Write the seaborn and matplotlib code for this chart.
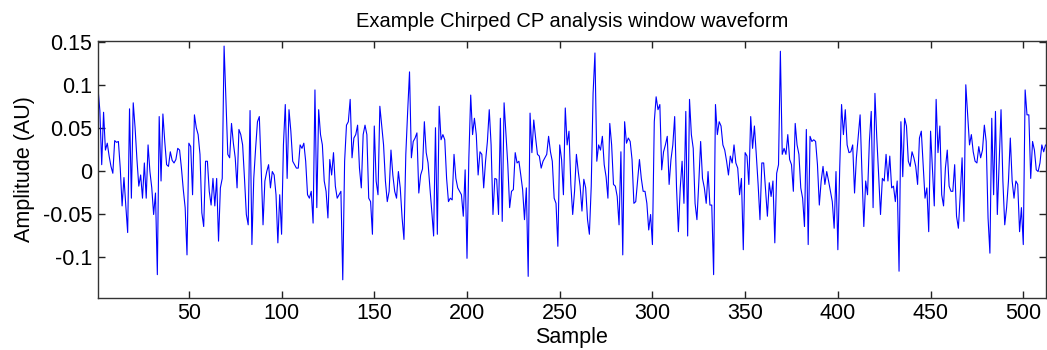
import numpy as np
import pandas as pd
import matplotlib
matplotlib.use("Agg")
import matplotlib.pyplot as plt
import seaborn as sns

# amplitude values (x 0.001), samples 1..512
seg1 = [96, 70, 7, 68, 24, 32, 17, 5, -3, 35,
        33, 34, 3, -41, -8, -41, -72, 72, -32, 79,
        50, 13, -18, -5, -32, 9, -32, 30, -1, -20,
        -51, -26, -121, 63, -12, 66, 34, 7, 5, 22,
        12, 9, 13]
seg2 = [26, 24, 3, -22, -43, -98, 32, 28, -28, 65,
        50, 42, 19, -49, -65, 11, 11, -24, -40, -9,
        -41, -9, -82, -20, -9, 145, 83, 19, 15, 55,
        32, 15, -20, 48, 42, 30, -9, -51, -63, 70,
        -86, -9, 26]
seg3 = [57, 63, 3, -63, -12, -1, 7, -20, -1, -5,
        -28, -84, -28, -74, 30, 77, -9, 71, 46, 11,
        7, 3, 3, 30, 26, 32, 11, -28, -32, -24,
        -61, 94, -43, 71, 42, 30, -12, -24, -55, 13,
        -5, 21, -18]
seg4 = [-32, -28, -24, -127, 11, 53, 57, 83, 15, 38,
        42, 53, 3, -20, 42, 53, 42, -32, -36, -74,
        52, -12, -28, 75, 53, 30, -12, -36, -24, 24,
        -5, -24, -32, -1, -20, -55, -80, 19, 69, 115,
        15, 34, 38]
seg5 = [44, -26, -5, 2, 57, 21, 9, -20, -47, -76,
        50, -74, 75, 36, 42, 36, -9, -36, -32, -34,
        19, -9, -20, -24, -28, -53, 1, -102, 15, 88,
        42, 61, 42, -5, 22, 19, -20, 11, 34, 71,
        30, -51, -9]
seg6 = [-10, -51, 61, -59, 79, 42, 7, -43, -24, -22,
        21, 9, 11, -5, -22, -57, -20, -123, 67, 21,
        59, 38, 19, 17, 3, 11, 15, 19, 40, 22,
        11, -32, -38, -88, 30, 13, -28, 73, 30, 46,
        -16, -51, -24]
seg7 = [19, -1, -18, -47, -10, -20, -57, -74, -18, 90,
        137, 11, 30, 24, 40, 7, -7, -32, 55, 30,
        -16, -18, -30, -63, 22, -98, 57, 32, 38, 34,
        13, -38, -36, -12, 13, -9, -24, -24, -38, -69,
        -51, -86, 57]
seg8 = [86, 71, 77, 1, 22, 30, 40, -16, 13, 30,
        63, -20, -71, -20, 11, -38, 69, -76, 83, 42,
        26, -38, -57, -14, 34, -9, -20, -38, -1, -40,
        -40, -121, 77, 42, 57, 52, 30, 24, 11, -5,
        17, 9, 30, 9]
seg9 = [3, -28, -9, -92, 21, 17, -16, 63, 26, 52,
        19, -16, -57, 9, 9, -22, -53, -14, -30, -12,
        -84, -3, 7, 139, 19, 26, 19, 42, 13, 7,
        -24, 55, 30, 19, -20, -32, -65, 48, -86, 40,
        34, 36, 34]
seg10 = [7, -40, -12, 5, -16, -1, -12, -24, -36, -67,
         -1, -92, 3, 77, 42, 71, 30, 21, 22, 30,
         -26, 15, 40, 65, -3, -65, -12, -28, 34, 69,
         -43, 90, 38, -5, -51, -9, -12, 19, -12, 17,
         -20, -18, -36]
seg11 = [-12, -117, 57, -7, 61, 52, 11, 5, 22, 15,
         5, -16, 38, 46, 7, -32, -20, -71, 46, 3,
         -41, 83, 21, 52, -28, -41, 3, 24, -18, -24,
         -24, 7, -53, -67, -28, 15, -59, 100, 65, 30,
         42, 22, 11]
seg12 = [9, 28, 15, 24, 53, 34, -55, -96, 61, -28,
         69, -51, 11, 71, -12, -63, -43, -12, 38, -12,
         -32, -12, -16, -71, -43, -86, 94, 65, 65, -9,
         34, 24, 1, -1, 9, 30, 22, 30]

x_ticks = [50, 100, 150, 200, 250, 300, 350, 400, 450, 500]
y_ticks = [-0.1, -0.05, 0, 0.05, 0.1, 0.15]
y_tick_labels = ["-0.1", "-0.05", "0", "0.05", "0.1", "0.15"]

amp = np.array(seg1 + seg2 + seg3 + seg4 + seg5 + seg6 + seg7 + seg8 +
               seg9 + seg10 + seg11 + seg12, dtype=float) / 1000.0
df = pd.DataFrame({"Sample": np.arange(1, len(amp) + 1), "Amplitude": amp})

sns.set_style("ticks")
plt.rcParams["font.family"] = ["Liberation Sans", "DejaVu Sans"]
plt.rcParams["axes.unicode_minus"] = False

fig = plt.figure(figsize=(10.47, 3.5), dpi=100)
ax = fig.add_axes([0.0936, 0.149, 0.9050, 0.734])
sns.lineplot(data=df, x="Sample", y="Amplitude", ax=ax, color="#0000ff",
             linewidth=0.8, estimator=None)

ax.set_xlim(1, 512)
ax.set_ylim(-0.148, 0.151)
ax.set_xticks(x_ticks)
ax.set_xticklabels([str(t) for t in x_ticks])
ax.set_yticks(y_ticks)
ax.set_yticklabels(y_tick_labels)
ax.tick_params(direction="in", length=5, width=1, top=True, right=True,
               labelsize=15.5, colors="#222222", labelcolor="black", pad=4)
for s in ax.spines.values():
    s.set_visible(True)
    s.set_color("#333333")
    s.set_linewidth(1.0)

ax.set_title("Example Chirped CP analysis window waveform", fontsize=14.5,
             pad=10, color="black")
ax.set_xlabel("Sample", fontsize=15.5, labelpad=2, color="black")
ax.set_ylabel("Amplitude (AU)", fontsize=15.5, labelpad=6, color="black")

fig.savefig("out.png", dpi=100)
